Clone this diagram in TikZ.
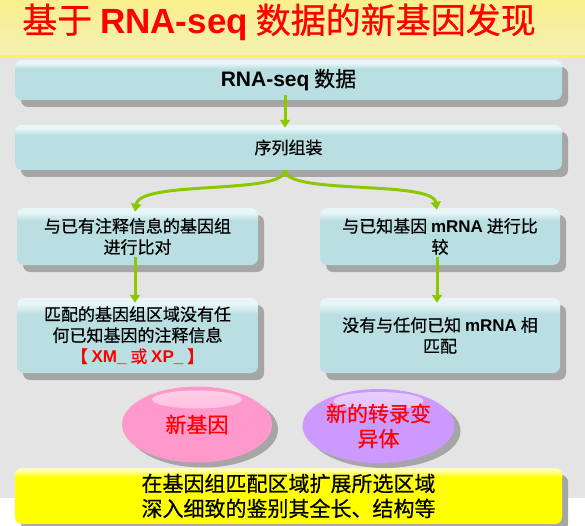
\documentclass[tikz,border=0pt]{standalone}
\usepackage{fontspec}
\setmainfont{Noto Sans CJK SC}[FakeBold=0.6]
\newfontfamily\lat{Liberation Sans}
\usetikzlibrary{arrows.meta,shapes.geometric,shadows}

\definecolor{bandtop}{HTML}{F9EF8C}
\definecolor{bandbot}{HTML}{F4F0B4}
\definecolor{bandline}{HTML}{FFF550}
\definecolor{bgc}{HTML}{E4E4E4}
\definecolor{boxfill}{HTML}{BADFE2}
\definecolor{boxtop}{HTML}{E8F6F7}
\definecolor{shadc}{HTML}{A6A6A6}
\definecolor{linkc}{HTML}{8CC800}
\definecolor{pinkc}{HTML}{FF99CC}
\definecolor{lilac}{HTML}{CC99FF}
\definecolor{notec}{HTML}{FFFF00}
\definecolor{notetop}{HTML}{FFFFB0}
\definecolor{redc}{HTML}{FF0000}

% flat fill with a glossy band along the top edge
\pgfdeclareverticalshading{boxshade}{100bp}{color(0bp)=(boxfill); color(64bp)=(boxfill); color(71bp)=(boxtop); color(100bp)=(boxtop)}
\pgfdeclareverticalshading{noteshade}{100bp}{color(0bp)=(notec); color(67bp)=(notec); color(73bp)=(notetop); color(100bp)=(notetop)}

\tikzset{
  box/.style={rectangle, rounded corners=7pt, shade, shading=boxshade,
    drop shadow={shadow xshift=6pt, shadow yshift=-7pt, fill=shadc, opacity=1},
    align=center, inner sep=0pt, font=\fontsize{17}{21}\selectfont},
  notebox/.style={box, shading=noteshade, font=\fontsize{21}{25}\selectfont},
  blob/.style={ellipse, inner sep=0pt,
    drop shadow={shadow xshift=6pt, shadow yshift=-5pt, fill=shadc, opacity=1},
    text=redc, align=center, font=\fontsize{21}{25}\selectfont},
  link/.style={draw=linkc, line width=3pt, -{Triangle[width=10pt,length=8pt]}},
}

\begin{document}
\begin{tikzpicture}[x=1pt,y=-1pt]
\useasboundingbox (0,0) rectangle (585,526);
% page background and title band
\fill[white] (0,0) rectangle (585,526);
\fill[bgc] (0,57) rectangle (585,498);
\shade[top color=bandtop, bottom color=bandbot] (0,0) rectangle (585,55);
\fill[bandline] (0,55) rectangle (585,58);

\node[text=redc, font=\fontsize{35}{40}\selectfont] (title) at (279,22)
  {基于 {\lat\bfseries RNA-seq} 数据的新基因发现};

% pipeline boxes
\node[box, minimum width=547pt, minimum height=40pt,
      font=\fontsize{21}{24}\selectfont] (data) at (288.5,80)
  {{\lat\bfseries RNA-seq} 数据};
\node[box, minimum width=547pt, minimum height=45pt] (asm) at (288.5,147.5) {序列组装};

\node[box, minimum width=241pt, minimum height=57pt] (cmpG) at (137.5,236.5)
  {与已有注释信息的基因组\\进行比对};
\node[box, minimum width=241pt, minimum height=75pt] (hitG) at (137.5,335.5)
  {匹配的基因组区域没有任\\何已知基因的注释信息\\
   {\color{redc}【 {\lat\bfseries XM\_} 或 {\lat\bfseries XP\_} 】}};

\node[box, minimum width=240pt, minimum height=57pt] (cmpM) at (440,236.5)
  {与已知基因 {\lat\bfseries mRNA} 进行比\\较};
\node[box, minimum width=240pt, minimum height=75pt] (hitM) at (440,335.5)
  {没有与任何已知 {\lat\bfseries mRNA} 相\\匹配};

% outcomes
\node[blob, fill=pinkc, minimum width=150pt, minimum height=76pt,
      path picture={\shade[top color=white!55!pinkc, bottom color=pinkc]
        ([yshift=-13pt]path picture bounding box.north) ellipse [x radius=45pt, y radius=9pt];}]
  (gene) at (197,424.5) {新基因};
\node[blob, fill=lilac, minimum width=152pt, minimum height=74pt,
      path picture={\shade[top color=white!55!lilac, bottom color=lilac]
        ([yshift=-12pt]path picture bounding box.north) ellipse [x radius=45pt, y radius=9pt];}]
  (variant) at (378.5,426) {新的转录变\\异体};

\node[notebox, minimum width=547pt, minimum height=56pt] (note) at (288.5,496)
  {在基因组匹配区域扩展所选区域\\深入细致的鉴别其全长、结构等};

% connectors
\draw[link] ([xshift=-3.5pt,yshift=5pt]data.south) -- ([xshift=-3.5pt,yshift=-3pt]asm.north);
\draw[link] ([xshift=-3.5pt]asm.south) .. controls +(0,25) and +(5,-32) .. ([xshift=-2.5pt,yshift=-4pt]cmpG.north);
\draw[link] ([xshift=-3.5pt]asm.south) .. controls +(0,25) and +(-5,-30) .. ([xshift=-3pt,yshift=-2pt]cmpM.north);
\draw[link] ([xshift=-2.5pt,yshift=8pt]cmpG.south) -- ([xshift=-2.5pt,yshift=-5pt]hitG.north);
\draw[link] ([xshift=-3pt,yshift=8pt]cmpM.south) -- ([xshift=-3pt,yshift=-5pt]hitM.north);
\end{tikzpicture}
\end{document}
